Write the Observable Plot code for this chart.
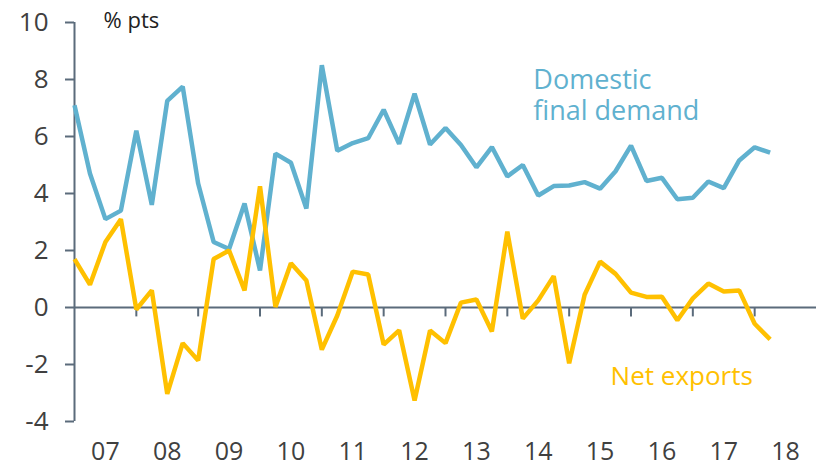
<!DOCTYPE html>
<html><head><meta charset="utf-8">
<script src="https://cdn.jsdelivr.net/npm/d3@7"></script>
<script src="https://cdn.jsdelivr.net/npm/@observablehq/plot@0.6"></script>
<style>body{margin:0;background:#fff}svg{display:block}</style>
</head><body><div id="chart"></div>
<script>
const startYear = 2007; // first quarter of the series
const domesticFinalDemand = [7.1, 4.7, 3.1, 3.4, 6.2, 3.6, 7.25, 7.75, 4.35, 2.3, 2.05, 3.65, 1.3, 5.4, 5.08, 3.47, 8.5, 5.5, 5.77, 5.94, 6.94, 5.74, 7.5, 5.72, 6.3, 5.7, 4.92, 5.63, 4.6, 5.0, 3.93, 4.26, 4.28, 4.4, 4.17, 4.78, 5.68, 4.44, 4.55, 3.8, 3.85, 4.42, 4.19, 5.16, 5.62, 5.43];
const netExports = [1.7, 0.8, 2.3, 3.1, -0.07, 0.6, -3.03, -1.25, -1.86, 1.7, 2.0, 0.6, 4.25, 0.02, 1.55, 0.95, -1.48, -0.28, 1.26, 1.16, -1.3, -0.8, -3.26, -0.81, -1.25, 0.17, 0.28, -0.84, 2.66, -0.39, 0.25, 1.1, -1.96, 0.45, 1.61, 1.18, 0.52, 0.37, 0.38, -0.45, 0.32, 0.84, 0.56, 0.6, -0.57, -1.12];
const yearLabels = ["07", "08", "09", "10", "11", "12", "13", "14", "15", "16", "17", "18"];
const yTicks = [-4, -2, 0, 2, 4, 6, 8, 10];
const seriesNames = ["Domestic\nfinal demand", "Net exports"];
const unitLabel = "% pts";

const t = i => startYear + i / 4;
const rows = [
  ...domesticFinalDemand.map((v, i) => ({t: t(i), v, s: seriesNames[0]})),
  ...netExports.map((v, i) => ({t: t(i), v, s: seriesNames[1]}))
];
const yearStarts = yearLabels.map((d, i) => startYear + i);
const axisColor = "#5b6b7b";
const blue = "#60b1cf";
const gold = "#ffc000";
const font = "'Open Sans', sans-serif";

const chart = Plot.plot({
  width: 816, height: 476,
  marginLeft: 74, marginRight: 0, marginTop: 22, marginBottom: 55,
  style: {fontFamily: font, background: "#fff"},
  x: {domain: [startYear, startYear + yearLabels.length], axis: null},
  y: {domain: [-4, 10], axis: null},
  color: {domain: seriesNames, range: [blue, gold]},
  marks: [
    Plot.ruleY([0], {stroke: axisColor, strokeWidth: 2}),
    Plot.ruleX(yearStarts.slice(1), {y1: 0, y2: -0.33, stroke: axisColor, strokeWidth: 2}),
    Plot.ruleX([startYear], {y1: -4, y2: 10, stroke: axisColor, strokeWidth: 2}),
    Plot.axisY({ticks: yTicks, label: null, tickSize: 9, tickPadding: 17, stroke: axisColor, strokeWidth: 2, fontSize: 26, fill: "#404040", tickFormat: d => String(d)}),
    Plot.text(yearLabels, {x: (d, i) => yearStarts[i] + 0.5, text: d => d, frameAnchor: "bottom", dy: 38, fontSize: 25, fill: "#404040"}),
    Plot.line(rows, {x: "t", y: "v", z: "s", stroke: "s", strokeWidth: 4.5, strokeLinejoin: "miter", strokeLinecap: "butt"}),
    Plot.text([seriesNames[0]], {x: 2014.42, y: 7.46, text: d => d, textAnchor: "start", lineAnchor: "middle", lineHeight: 1.12, fontSize: 27, fill: blue}),
    Plot.text([seriesNames[1]], {x: 2015.67, y: -2.42, text: d => d, textAnchor: "start", lineAnchor: "middle", fontSize: 26, fill: gold}),
    Plot.text([unitLabel], {x: 2007.47, y: 10.07, text: d => d, textAnchor: "start", lineAnchor: "middle", fontSize: 22, fill: "#222"})
  ]
});
document.getElementById("chart").append(chart);
</script>
</body></html>
